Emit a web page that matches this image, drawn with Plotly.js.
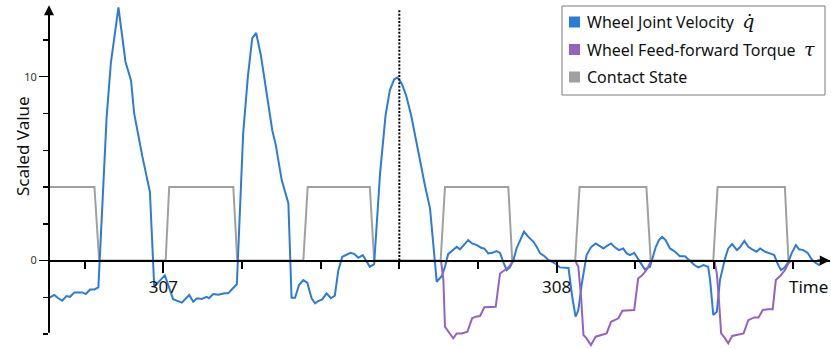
<!DOCTYPE html>
<html><head><meta charset="utf-8">
<script src="https://cdn.plot.ly/plotly-3.0.1.min.js"></script>
<style>html,body{margin:0;padding:0;background:#fff}#chart{width:831px;height:349px}</style>
</head><body><div id="chart"></div>
<script>
// ---- data ----
const velTime = [306.709,306.723,306.733,306.743,306.754,306.763,306.774,306.784,306.794,306.803,
306.814,306.825,306.835,306.856,306.867,306.886,306.904,306.918,306.926,306.947,
306.966,306.977,306.992,307.004,307.025,307.047,307.066,307.076,307.086,307.098,
307.110,307.116,307.127,307.140,307.155,307.165,307.174,307.187,307.203,307.215,
307.226,307.236,307.248,307.263,307.277,307.286,307.301,307.318,307.326,307.335,
307.345,307.356,307.366,307.377,307.386,307.394,307.404,307.415,307.426,307.436,
307.445,307.455,307.466,307.476,307.486,307.496,307.507,307.515,307.525,307.536,
307.541,307.551,307.565,307.576,307.587,307.595,307.606,307.617,307.630,307.642,
307.655,307.665,307.678,307.686,307.695,307.708,307.716,307.724,307.735,307.746,
307.754,307.765,307.775,307.785,307.797,307.808,307.816,307.826,307.836,307.847,
307.856,307.864,307.873,307.881,307.890,307.898,307.907,307.917,307.928,307.941,
307.949,307.958,307.969,307.979,307.989,308.000,308.008,308.021,308.030,308.040,
308.048,308.055,308.064,308.076,308.087,308.099,308.110,308.119,308.127,308.138,
308.148,308.158,308.169,308.178,308.186,308.197,308.206,308.216,308.224,308.237,
308.243,308.252,308.260,308.268,308.277,308.288,308.301,308.313,308.326,308.339,
308.350,308.360,308.373,308.385,308.390,308.398,308.407,308.415,308.428,308.436,
308.446,308.458,308.466,308.477,308.487,308.497,308.508,308.517,308.530,308.542,
308.553,308.562,308.570,308.580,308.589,308.597,308.608,308.616,308.627,308.638,
308.648,308.658,308.667,308.674];
const velValue = [-2.04,-1.87,-2.05,-2.18,-1.93,-1.97,-1.73,-1.75,-1.73,-1.82,
-1.57,-1.57,-1.46,7.8,10.8,13.77,10.8,9.8,8.0,5.64,
3.74,-1.42,-1.05,-0.8,-2.1,-2.29,-1.87,-2.24,-2.05,-2.09,
-1.97,-2.05,-1.82,-1.86,-1.78,-1.78,-1.57,-1.29,6.9,10.0,
12.08,12.38,11.17,9.09,7.09,6.28,4.38,3.11,-2.02,-2.02,
-1.33,-1.06,-1.2,-2.05,-2.33,-2.2,-2.11,-1.78,-2.05,-1.91,
-0.52,0.21,0.3,0.42,0.35,0.15,0.3,0.03,-0.34,-0.19,
1.48,4.74,7.9,9.27,9.86,9.96,9.63,9.0,7.9,6.55,
5.28,4.1,2.84,0.75,-1.15,-0.84,-0.34,0.35,0.57,0.75,
0.61,0.9,1.11,0.93,0.84,0.7,0.65,0.39,0.42,0.52,
0.42,-0.07,-0.52,-0.37,0.03,0.66,1.11,1.57,1.29,1.02,
0.75,0.39,0.24,0.03,-0.07,-0.21,-0.37,-0.37,-0.4,-2.05,
-3.05,-2.69,-1.24,0.3,0.72,0.93,0.79,0.66,0.79,0.93,
0.72,0.57,0.66,0.39,0.3,0.42,0.12,-0.24,-0.48,-0.34,
0.12,0.75,1.11,1.29,1.11,0.66,0.48,0.24,0.24,-0.01,
-0.24,-0.37,-0.24,-0.34,-1.06,-2.96,-2.78,-1.06,0.12,0.66,
0.9,0.57,0.72,1.08,0.75,0.61,0.48,0.66,0.48,0.39,
0.3,-0.19,-0.52,-0.37,-0.07,0.39,0.84,0.61,0.57,0.42,
0.07,-0.12,-0.24,-0.12];

const torqueTime = [307.706,307.712,307.716,307.726,307.737,307.746,307.759,307.773,307.785,307.794,307.805,307.816,307.830,307.845,307.856,307.869,307.879,307.890,null,
308.047,308.055,308.062,308.068,308.076,308.087,308.099,308.114,308.127,308.138,308.148,308.157,308.167,308.182,308.197,308.207,308.218,308.229,308.240,null,
308.401,308.407,308.413,308.418,308.428,308.436,308.446,308.458,308.475,308.487,308.502,308.513,308.524,308.538,308.549,308.557,308.568,308.580,308.589,308.597];
const torqueValue = [0,-1.06,-3.6,-3.87,-4.23,-3.96,-3.96,-3.87,-3.14,-3.05,-3.02,-2.54,-2.51,-2.51,-0.7,-0.52,-0.34,0,null,
0,-0.34,-1.97,-4.05,-4.23,-4.6,-4.14,-4.05,-3.96,-3.33,-3.24,-3.14,-2.73,-2.69,-2.69,-0.97,-0.79,-0.48,0,null,
0,-0.7,-2.33,-3.96,-4.23,-4.5,-4.1,-4.05,-3.96,-3.24,-3.09,-3.09,-2.69,-2.65,-2.65,-1.06,-0.84,-0.52,-0.15,0];

const contactTime = [306.709,306.825,306.837,307.006,307.015,307.178,307.188,307.356,307.367,307.525,307.536,307.705,307.716,307.877,307.887,308.047,308.058,308.228,308.239,308.398,308.409,308.580,308.589];
const contactValue = [4,4,0,0,4,4,0,0,4,4,0,0,4,4,0,0,4,4,0,0,4,4,0];

const xMajorTicks = [307, 308];
const xMinorTicks = [306.8, 307.2, 307.4, 307.6, 307.8, 308.2, 308.4, 308.6];
const yMajorTicks = [0, 10];
const yMinorTicks = [-4, -2, 2, 4, 6, 8, 12];
const markerTime = 307.6;
const seriesNames = ['Wheel Joint Velocity', 'Wheel Feed-forward Torque', 'Contact State'];
const seriesSymbols = ['q\u0307', '\u03c4', ''];
const axisTitles = {x: 'Time', y: 'Scaled Value'};

// ---- styling / layout ----
const colors = ['#2b7cd6', '#9562c2', '#a0a0a0'];
const W = 831, H = 349, M = {l: 49, r: 1, t: 5, b: 2};
const xRange = [306.7095, 308.6947], yRange = [-4.7, 13.9];
const pw = W - M.l - M.r, ph = H - M.t - M.b;
const pxX = p => (p - M.l) / pw;
const pxY = p => 1 - (p - M.t) / ph;
const FONT = 'Noto Sans, DejaVu Sans, sans-serif';

const traces = [
  {x: contactTime, y: contactValue, type: 'scatter', mode: 'lines', line: {color: colors[2], width: 2}, showlegend: false, hoverinfo: 'skip'},
  {x: velTime, y: velValue, type: 'scatter', mode: 'lines', line: {color: colors[0], width: 2}, showlegend: false},
  {x: torqueTime, y: torqueValue, type: 'scatter', mode: 'lines', connectgaps: false, line: {color: colors[1], width: 2}, showlegend: false}
];

const rows = [22, 49.5, 77];
const shapes = [
  {type: 'line', xref: 'x', yref: 'y', x0: markerTime, x1: markerTime, y0: 0, y1: 13.63,
   line: {color: '#000', width: 2, dash: '2px,1.6px'}},
  {type: 'rect', xref: 'paper', yref: 'paper', x0: pxX(562), x1: pxX(825), y0: pxY(95), y1: pxY(6),
   line: {color: '#7a7a7a', width: 1}, fillcolor: '#fff', layer: 'above'}
];
rows.forEach((r, i) => shapes.push({type: 'rect', xref: 'paper', yref: 'paper',
  x0: pxX(569), x1: pxX(580), y0: pxY(r + 5.5), y1: pxY(r - 5.5),
  line: {width: 0}, fillcolor: colors[i], layer: 'above'}));

const mathSpan = s => s ? '\u00a0\u00a0<span style="font-family:DejaVu Serif;font-style:italic;font-size:19px">' + s + '</span>' : '';
const annotations = [
  // y axis line with arrow
  {xref: 'x', yref: 'y', x: xRange[0], y: yRange[1] - 0.01, axref: 'x', ayref: 'y', ax: xRange[0], ay: -4,
   showarrow: true, arrowhead: 2, arrowsize: 1, arrowwidth: 2, arrowcolor: '#000', standoff: 0, text: ''},
  // x axis arrow head
  {xref: 'x', yref: 'y', x: xRange[1] - 0.0005, y: 0, ax: -14, ay: 0,
   showarrow: true, arrowhead: 2, arrowsize: 1, arrowwidth: 2, arrowcolor: '#000', standoff: 0, text: ''},
  {xref: 'paper', yref: 'y', x: 0, xshift: -40, y: 6.2, text: axisTitles.y, textangle: -90,
   showarrow: false, font: {family: FONT, size: 17, color: '#111'}},
  {xref: 'paper', yref: 'y', x: 1, xanchor: 'right', y: 0, yanchor: 'top', yshift: -12, text: axisTitles.x,
   showarrow: false, font: {family: FONT, size: 17, color: '#111'}}
];
rows.forEach((r, i) => annotations.push({xref: 'paper', yref: 'paper', x: pxX(585), xanchor: 'left',
  y: pxY(r), yanchor: 'middle', showarrow: false, text: seriesNames[i] + mathSpan(seriesSymbols[i]),
  font: {family: FONT, size: 16, color: '#111'}}));

const layout = {
  width: W, height: H, margin: Object.assign({pad: 0}, M),
  paper_bgcolor: '#fff', plot_bgcolor: 'rgba(0,0,0,0)',
  font: {family: FONT, color: '#111'}, showlegend: false,
  xaxis: {range: xRange, anchor: 'free', position: (0 - yRange[0]) / (yRange[1] - yRange[0]),
    showline: true, linecolor: '#000', linewidth: 2, showgrid: false, zeroline: false,
    ticks: 'outside', tickmode: 'array', tickvals: xMajorTicks, ticktext: xMajorTicks.map(String),
    ticklen: 11, tickwidth: 2, tickcolor: '#000', tickfont: {family: FONT, size: 17, color: '#111'},
    minor: {tickmode: 'array', tickvals: xMinorTicks, ticks: 'outside', ticklen: 7, tickwidth: 2, tickcolor: '#000', showgrid: false}},
  yaxis: {range: yRange, showline: false, showgrid: false, zeroline: false,
    ticks: 'outside', tickmode: 'array', tickvals: yMajorTicks, ticktext: yMajorTicks.map(String),
    ticklen: 9, tickwidth: 1.5, tickcolor: '#000', tickfont: {family: FONT, size: 11, color: '#333'},
    minor: {tickmode: 'array', tickvals: yMinorTicks, ticks: 'outside', ticklen: 5, tickwidth: 1.5, tickcolor: '#000', showgrid: false}},
  shapes: shapes, annotations: annotations
};
Plotly.newPlot('chart', traces, layout, {displayModeBar: false, staticPlot: true});
</script></body></html>
